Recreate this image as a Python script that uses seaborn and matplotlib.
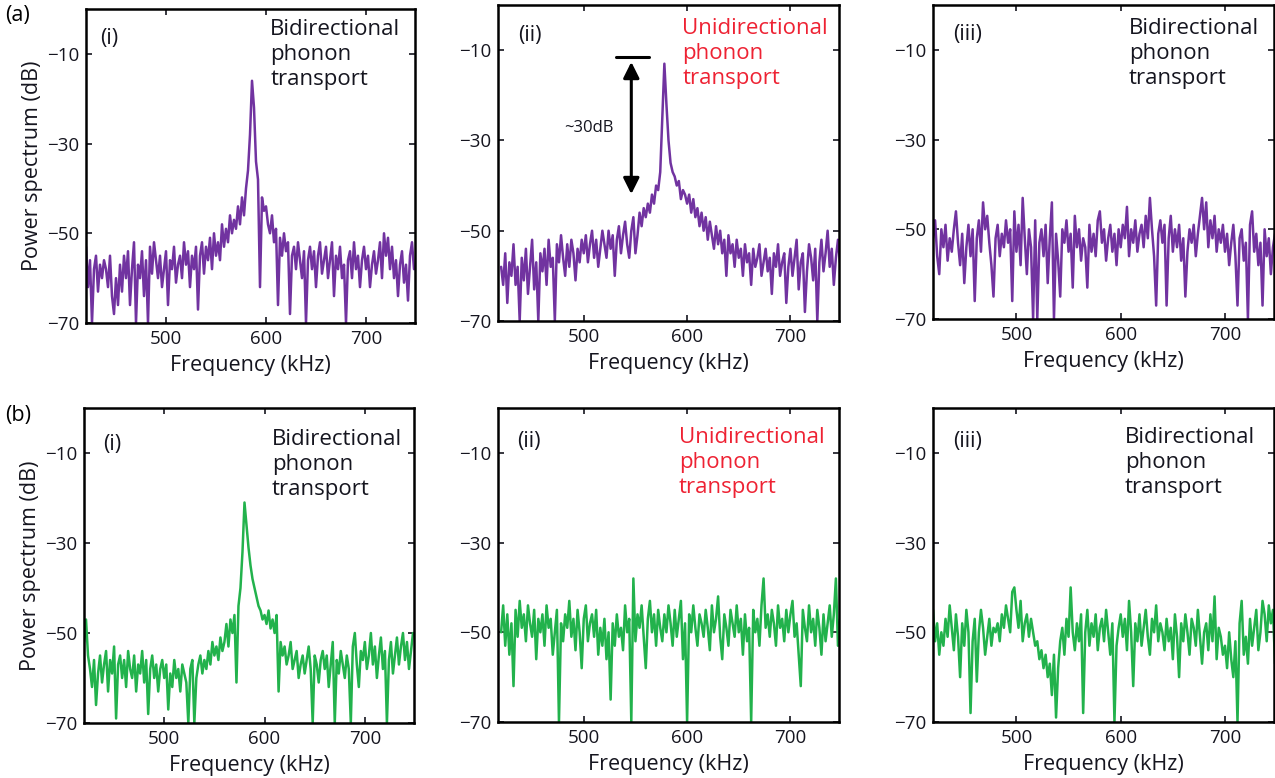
import numpy as np
import pandas as pd
import matplotlib
matplotlib.use("Agg")
import matplotlib.pyplot as plt
import seaborn as sns

sns.set_theme(style="white")
plt.rcParams['font.family'] = ['Open Sans', 'DejaVu Sans']

# Frequency axis (kHz), 2 kHz sampling
freq = list(range(420, 750, 2))

# (a)(i) purple, bidirectional
a1 = [-53,-62,-56,-70,-58,-55,-63,-57,-60,-56,
      -58,-62,-55,-64,-68,-60,-66,-57,-63,-55,
      -60,-54,-66,-58,-52,-70,-57,-60,-54,-64,
      -56,-70,-53,-59,-52,-56,-60,-55,-62,-58,
      -54,-66,-56,-58,-53,-61,-57,-55,-60,-52,
      -57,-54,-62,-55,-58,-53,-67,-55,-52,-59,
      -53,-56,-51,-58,-50,-55,-52,-56,-48,-53,
      -49,-52,-46,-50,-47,-49,-44,-48,-42,-46,
      -40,-36,-28,-16,-22,-34,-38,-62,-42,-45,
      -44,-48,-50,-46,-52,-49,-66,-51,-55,-50,
      -54,-52,-68,-55,-53,-58,-52,-56,-60,-54,
      -70,-56,-53,-58,-54,-62,-55,-52,-59,-56,
      -53,-60,-56,-52,-64,-55,-58,-53,-60,-57,
      -70,-56,-54,-60,-52,-58,-55,-62,-56,-53,
      -58,-55,-62,-57,-54,-59,-56,-52,-60,-50,
      -55,-51,-58,-53,-60,-56,-64,-57,-54,-61,
      -57,-65,-55,-52,-58]

# (a)(ii) purple, unidirectional
a2 = [-58,-62,-55,-66,-57,-60,-53,-62,-58,-70,
      -56,-61,-54,-64,-58,-52,-63,-57,-70,-55,
      -59,-54,-62,-52,-58,-56,-70,-53,-57,-51,
      -56,-60,-53,-58,-52,-55,-61,-54,-57,-52,
      -55,-51,-57,-53,-50,-56,-52,-58,-54,-50,
      -53,-56,-50,-54,-51,-60,-52,-49,-55,-51,
      -48,-53,-56,-50,-47,-55,-51,-46,-49,-45,
      -47,-44,-46,-42,-44,-40,-41,-37,-25,-13,
      -22,-30,-35,-37,-38,-40,-39,-43,-41,-42,
      -44,-42,-46,-43,-47,-45,-49,-46,-50,-47,
      -52,-48,-51,-54,-49,-53,-50,-55,-52,-60,
      -51,-55,-53,-58,-52,-56,-54,-60,-53,-57,
      -55,-62,-54,-58,-56,-53,-60,-57,-54,-59,
      -56,-64,-55,-58,-53,-60,-57,-55,-66,-58,
      -54,-60,-56,-52,-63,-57,-55,-68,-59,-53,
      -56,-61,-54,-70,-57,-52,-59,-55,-50,-58,
      -54,-62,-56,-52,-57]

# (a)(iii) purple, bidirectional
a3 = [-52,-48,-56,-60,-50,-54,-49,-57,-52,-55,
      -50,-46,-53,-58,-51,-62,-54,-49,-56,-50,
      -66,-52,-48,-55,-44,-50,-47,-53,-58,-65,
      -52,-49,-56,-51,-54,-48,-53,-50,-66,-46,
      -55,-49,-58,-43,-52,-60,-50,-54,-70,-48,
      -70,-53,-50,-56,-49,-62,-52,-44,-70,-51,
      -57,-65,-50,-53,-48,-55,-51,-63,-47,-54,
      -50,-57,-52,-54,-63,-49,-55,-51,-56,-48,
      -46,-53,-50,-57,-52,-49,-55,-51,-58,-50,
      -54,-49,-52,-45,-56,-50,-53,-48,-55,-51,
      -49,-54,-47,-52,-43,-50,-56,-67,-51,-48,
      -53,-49,-67,-52,-47,-55,-50,-54,-49,-57,
      -52,-65,-55,-50,-53,-49,-56,-51,-47,-43,
      -50,-44,-54,-48,-52,-47,-55,-50,-53,-49,
      -55,-51,-58,-53,-49,-56,-67,-52,-50,-57,
      -53,-70,-49,-46,-55,-51,-58,-53,-67,-50,
      -56,-52,-60,-54,-51]

# (b)(i) green, bidirectional
b1 = [-52,-47,-55,-58,-62,-56,-66,-59,-55,-61,
      -57,-54,-63,-56,-59,-53,-69,-57,-55,-60,
      -56,-62,-54,-58,-60,-55,-63,-57,-59,-54,
      -61,-56,-68,-58,-55,-60,-57,-63,-58,-56,
      -60,-57,-67,-59,-62,-56,-60,-58,-63,-57,
      -59,-61,-70,-58,-56,-70,-60,-57,-55,-59,
      -56,-58,-54,-57,-52,-55,-53,-56,-51,-54,
      -52,-48,-53,-47,-50,-46,-61,-44,-40,-32,
      -21,-26,-31,-35,-38,-40,-42,-44,-45,-47,
      -46,-48,-45,-49,-47,-50,-46,-63,-52,-55,
      -53,-57,-55,-52,-58,-56,-54,-60,-57,-55,
      -59,-56,-53,-58,-70,-55,-57,-61,-56,-54,
      -58,-55,-62,-57,-52,-70,-56,-59,-54,-57,
      -60,-55,-58,-70,-53,-50,-57,-62,-54,-56,
      -52,-58,-55,-50,-57,-53,-60,-55,-51,-58,
      -54,-70,-56,-52,-59,-55,-51,-57,-53,-50,
      -56,-52,-58,-54,-50]

# (b)(ii) green, unidirectional
b2 = [-50,-44,-53,-46,-55,-48,-62,-45,-51,-43,
      -49,-46,-52,-44,-48,-51,-45,-56,-47,-50,
      -46,-53,-44,-49,-47,-55,-50,-45,-70,-48,
      -52,-46,-49,-43,-51,-47,-54,-45,-50,-58,
      -47,-44,-52,-48,-46,-51,-45,-55,-49,-53,
      -47,-56,-50,-65,-48,-53,-46,-51,-49,-54,
      -44,-50,-47,-70,-38,-52,-46,-49,-44,-51,
      -58,-47,-43,-50,-46,-53,-45,-49,-52,-46,
      -50,-44,-48,-53,-45,-51,-47,-43,-56,-48,
      -70,-46,-50,-44,-49,-53,-46,-48,-51,-45,
      -49,-54,-44,-50,-47,-42,-51,-56,-46,-49,
      -53,-45,-48,-51,-44,-50,-47,-55,-46,-52,
      -49,-70,-45,-50,-47,-53,-44,-38,-49,-46,
      -51,-45,-48,-53,-44,-49,-47,-52,-45,-50,
      -46,-43,-51,-48,-55,-62,-45,-49,-52,-44,
      -50,-47,-53,-45,-49,-55,-46,-52,-48,-44,
      -51,-46,-38,-53,-47]

# (b)(iii) green, bidirectional
b3 = [-45,-52,-48,-55,-50,-53,-47,-51,-44,-49,
      -54,-46,-51,-60,-48,-53,-45,-50,-68,-52,
      -47,-61,-50,-45,-49,-55,-51,-47,-53,-49,
      -50,-48,-52,-46,-49,-44,-47,-50,-41,-40,
      -45,-49,-43,-52,-48,-46,-51,-47,-50,-53,
      -52,-56,-54,-58,-55,-60,-57,-64,-55,-69,
      -58,-52,-49,-55,-47,-51,-40,-50,-54,-48,
      -52,-46,-68,-50,-45,-53,-48,-51,-46,-54,
      -49,-47,-52,-45,-50,-55,-48,-70,-53,-49,
      -46,-51,-47,-54,-43,-50,-62,-48,-52,-46,
      -53,-49,-45,-51,-55,-47,-50,-44,-52,-48,
      -50,-54,-47,-52,-49,-56,-46,-51,-60,-48,
      -52,-46,-50,-55,-47,-49,-53,-45,-51,-57,
      -50,-48,-54,-46,-52,-42,-56,-49,-51,-55,
      -53,-58,-50,-56,-60,-52,-70,-48,-43,-55,
      -51,-57,-47,-53,-49,-45,-54,-50,-43,-46,
      -52,-44,-48,-45,-57]

xticks = [500, 600, 700]
yticks = [-70, -50, -30, -10]
panel_tags = ["(i)", "(ii)", "(iii)"]
labels = ["Bidirectional\nphonon\ntransport",
          "Unidirectional\nphonon\ntransport",
          "Bidirectional\nphonon\ntransport"]

PURPLE = "#7133a0"
GREEN = "#22b24c"
RED = "#ee2233"
INK = "#15151f"

fig = plt.figure(figsize=(12.75, 7.78), dpi=100)
W, H = 1275, 778

# axes boxes in pixels: left, top, right, bottom
boxes = [
    [(86, 9, 415, 323), (498, 5, 839, 321), (933, 5, 1274, 319)],
    [(84, 408, 414, 723), (498, 408, 839, 722), (933, 408, 1274, 722)],
]
xlims = [(420, 749), (417, 747), (420, 747)]
series = [[a1, a2, a3], [b1, b2, b3]]
colors = [PURPLE, GREEN]
tag_pos = [[(0.043, 0.905), (0.06, 0.905), (0.06, 0.905)],
           [(0.058, 0.885), (0.056, 0.893), (0.06, 0.893)]]
lab_pos = [[(0.56, 0.968), (0.54, 0.958), (0.575, 0.958)],
           [(0.57, 0.933), (0.53, 0.938), (0.563, 0.938)]]

for r in range(2):
    for c in range(3):
        l, t, rr, b = boxes[r][c]
        ax = fig.add_axes([l / W, 1 - b / H, (rr - l) / W, (b - t) / H])
        df = pd.DataFrame({"f": freq, "p": series[r][c]})
        sns.lineplot(data=df, x="f", y="p", ax=ax, color=colors[r],
                     linewidth=1.8, estimator=None, sort=False)
        ax.set_xlim(*xlims[c])
        ax.set_ylim(-70, 0)
        ax.set_xticks(xticks)
        ax.set_yticks(yticks)
        ax.set_yticklabels(["\u221270", "\u221250", "\u221230", "\u221210"])
        ax.tick_params(direction="in", length=4, width=1.2, top=True, right=True,
                       bottom=True, left=True, labelsize=13.5, colors=INK, pad=5)
        for s in ax.spines.values():
            s.set_color("black")
            s.set_linewidth(1.8)
            s.set_visible(True)
        ax.set_xlabel("Frequency (kHz)", fontsize=15.5, color=INK, labelpad=5)
        if c == 0:
            ax.set_ylabel("Power spectrum (dB)", fontsize=15.5, color=INK, labelpad=3)
        else:
            ax.set_ylabel("")
        tx, ty = tag_pos[r][c]
        ax.text(tx, ty, panel_tags[c], transform=ax.transAxes, fontsize=15.5,
                color=INK, ha="left", va="center")
        lx, ly = lab_pos[r][c]
        ax.text(lx, ly, labels[c], transform=ax.transAxes, fontsize=16,
                color=RED if c == 1 else INK, ha="left", va="top",
                linespacing=1.25)
        if r == 0 and c == 1:
            ax.annotate("", xy=(546, -12.0), xytext=(546, -42.5),
                        arrowprops=dict(arrowstyle="<|-|>", color="black",
                                        lw=2.2, mutation_scale=24))
            ax.plot([531, 563], [-11.6, -11.6], color="black", lw=2.2)
            ax.text(505, -27.3, "~30dB", fontsize=12, color=INK,
                    ha="center", va="center")

fig.text(5 / W, 1 - 15 / H, "(a)", fontsize=15.5, color="black", ha="left", va="center")
fig.text(5 / W, 1 - 415 / H, "(b)", fontsize=15.5, color="black", ha="left", va="center")

fig.savefig("out.png", dpi=100)
